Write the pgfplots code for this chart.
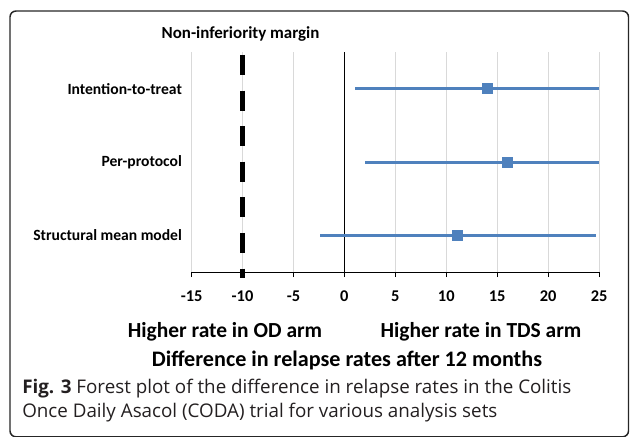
\documentclass[border=0pt]{standalone}
\usepackage{pgfplots}
\pgfplotsset{compat=1.18}
\usepackage{fontspec}
\setmainfont{Carlito}
\newfontfamily\capfont{Open Sans}
\definecolor{barblue}{HTML}{4F81BD}
\definecolor{gridgray}{HTML}{D9D9D9}
\definecolor{capgray}{HTML}{231F20}

\begin{document}
\begin{tikzpicture}
\useasboundingbox (0,0) rectangle (472.5pt,-327pt);
\begin{axis}[
  at={(143.7pt,-204pt)}, anchor=south west,
  scale only axis, width=305.6pt, height=165pt,
  xmin=-15, xmax=25, ymin=0.5, ymax=3.5,
  clip=false,
  axis x line*=bottom, axis y line*=left,
  y axis line style={draw=none},
  xtick={-15,-10,...,25},
  ytick={1,2,3},
  yticklabels={Structural mean model,Per-protocol,Intention-to-treat},
  xmajorgrids, major grid style={gridgray, line width=0.75pt},
  tick align=outside,
  x tick style={black, line width=0.75pt}, major tick length=3.75pt,
  y tick style={draw=none},
  x axis line style={black, line width=0.75pt},
  /pgf/number format/assume math mode=true,
  xticklabel style={font=\bfseries\fontsize{12.3}{14}\selectfont, yshift=-7pt},
  yticklabel style={font=\bfseries\fontsize{11.7}{13}\selectfont},
]
\addplot[black, line width=0.75pt] coordinates {(0,0.5) (0,3.5)};
\addplot[black, line width=3.75pt, dash pattern=on 15pt off 11.7pt] coordinates {(-10,3.46) (-10,0.42)};
\addplot[barblue, only marks, mark=square*, mark size=3.75pt, mark options={draw=none, fill=barblue},
  error bars/.cd, x dir=both, x explicit, error mark=none,
  error bar style={line width=2.25pt, barblue}]
  table[x=x, y=y, x error plus=ep, x error minus=em] {
x y em ep
14.0 3 13.0 11.0
16.0 2 14.0 9.0
11.1 1 13.54 13.6
};
\end{axis}
\begin{scope}[x=0.75pt,y=-0.75pt]
\draw[line width=1.1pt, color=black!85, rounded corners=4.5pt] (10,11) rectangle (628.5,436.8);
\node[anchor=base, font=\bfseries\fontsize{12.7}{14}\selectfont] at (240.5,38) {Non-inferiority margin};
\node[anchor=base, font=\bfseries\fontsize{16.1}{18}\selectfont] at (225,337) {Higher rate in OD arm};
\node[anchor=base, font=\bfseries\fontsize{16.1}{18}\selectfont] at (481,337) {Higher rate in TDS arm};
\node[anchor=base, font=\bfseries\fontsize{16.6}{18}\selectfont] at (347,366) {Difference in relapse rates after 12 months};
\node[anchor=base west, inner sep=0pt, text=capgray, font=\capfont\fontsize{14.1}{16}\selectfont] at (22,393) {\textbf{Fig. 3} Forest plot of the difference in relapse rates in the Colitis};
\node[anchor=base west, inner sep=0pt, text=capgray, font=\capfont\fontsize{14.1}{16}\selectfont] at (22,417) {Once Daily Asacol (CODA) trial for various analysis sets};
\end{scope}
\end{tikzpicture}
\end{document}
